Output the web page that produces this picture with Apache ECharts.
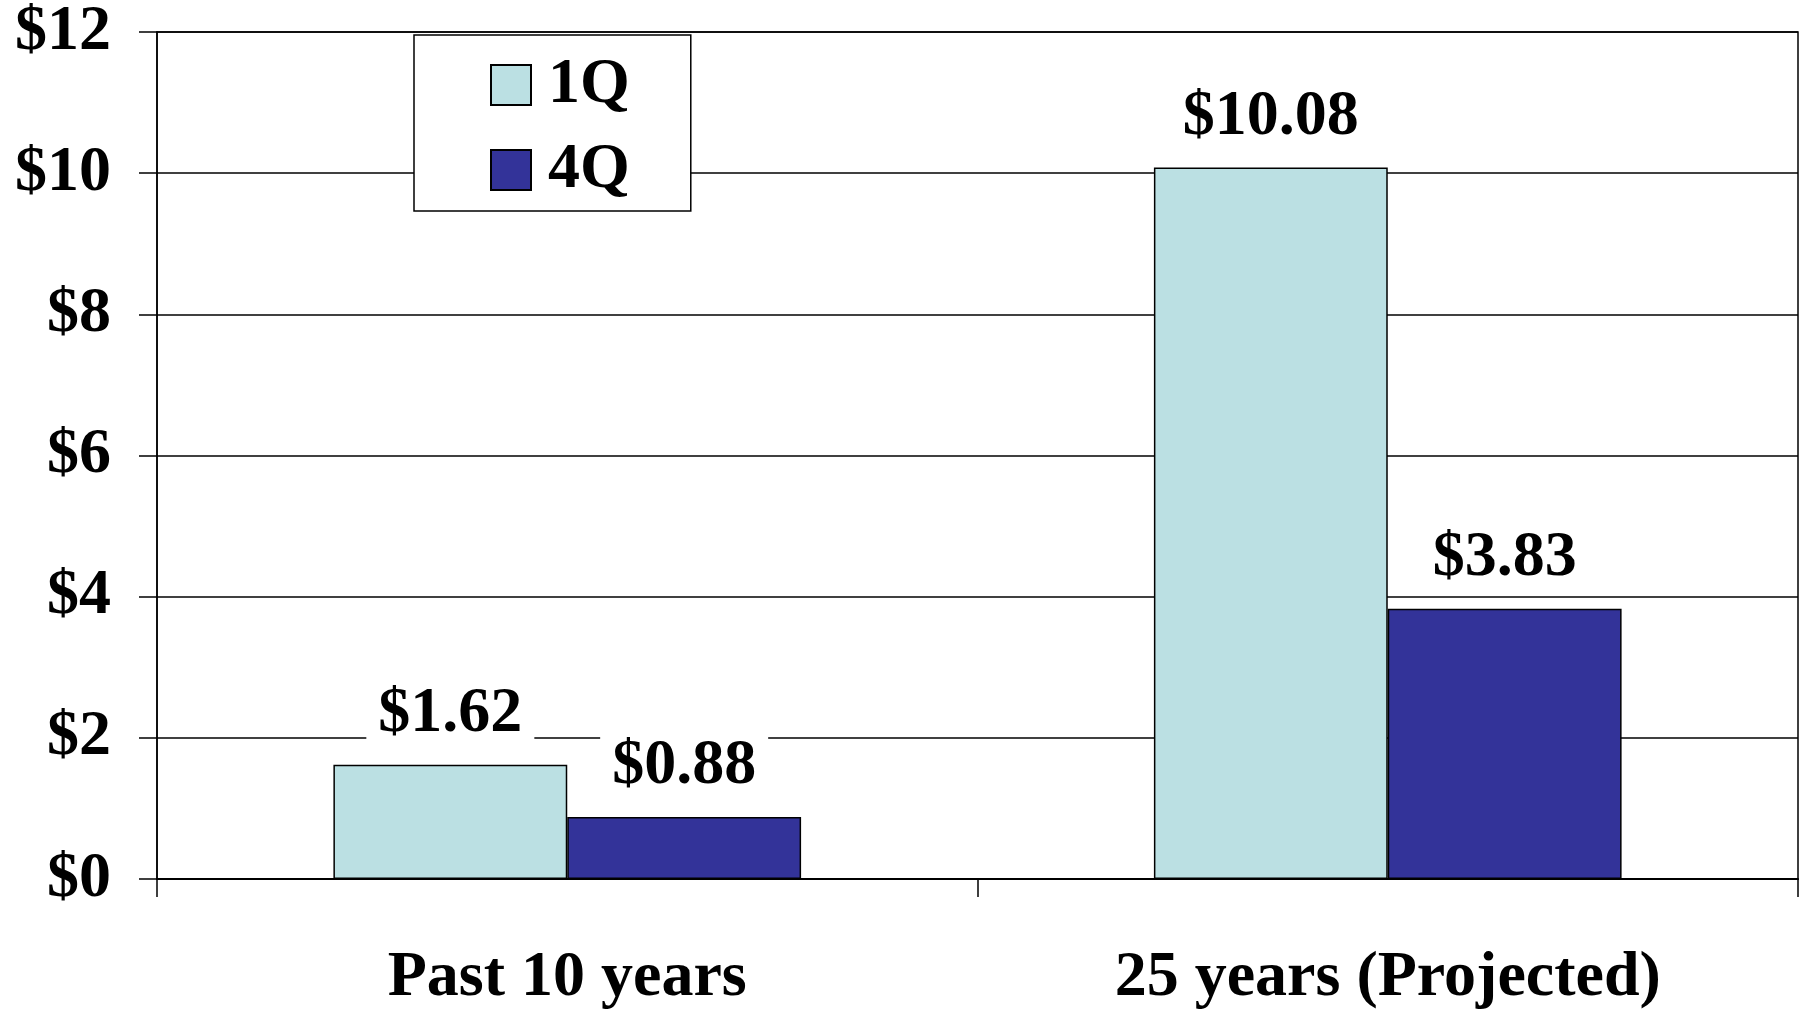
<!DOCTYPE html>
<html>
<head>
<meta charset="utf-8">
<style>html,body{margin:0;padding:0;background:#fff;}#chart{width:1808px;height:1021px;}</style>
<script src="https://cdn.jsdelivr.net/npm/echarts@6/dist/echarts.min.js"></script>
</head>
<body>
<div id="chart"></div>
<script>
const categories = ['Past 10 years', '25 years (Projected)'];
const series1Q = [1.62, 10.08];
const series4Q = [0.88, 3.83];
const seriesNames = ['1Q', '4Q'];
const yTicks = { min: 0, max: 12, interval: 2 };

const FONT = '"Liberation Serif", "Times New Roman", serif';
const chart = echarts.init(document.getElementById('chart'));
const labelCfg = {
  show: true,
  position: 'top',
  distance: 18,
  formatter: p => '$' + p.value.toFixed(2),
  fontFamily: FONT,
  fontWeight: 'bold',
  fontSize: 64,
  lineHeight: 64,
  color: '#000',
  backgroundColor: '#fff',
  padding: [0, 12, 0, 12]
};
chart.setOption({
  animation: false,
  backgroundColor: '#fff',
  grid: { left: 157, right: 10, top: 25, bottom: 142, show: true, borderColor: '#000', borderWidth: 1.5, z: 1 },
  legend: {
    data: seriesNames,
    orient: 'vertical',
    left: 414,
    top: 35,
    backgroundColor: '#fff',
    borderColor: '#000',
    borderWidth: 1.5,
    padding: [18, 61, 9, 76],
    itemWidth: 40,
    itemHeight: 40,
    itemGap: 21,
    icon: 'rect',
    textStyle: { fontFamily: FONT, fontWeight: 'bold', fontSize: 64, lineHeight: 40, color: '#000', padding: [0, 0, 0, 12] },
    z: 10
  },
  xAxis: {
    type: 'category',
    data: categories,
    axisLine: { show: true, lineStyle: { color: '#000', width: 2 } },
    axisTick: { show: true, length: 18, lineStyle: { color: '#000', width: 1.5 } },
    axisLabel: { margin: 67, fontFamily: FONT, fontWeight: 'bold', fontSize: 64, color: '#000' },
    splitLine: { show: false }
  },
  yAxis: {
    type: 'value',
    min: yTicks.min,
    max: yTicks.max,
    interval: yTicks.interval,
    axisLine: { show: true, lineStyle: { color: '#000', width: 1.5 } },
    axisTick: { show: true, length: 18, lineStyle: { color: '#000', width: 1.5 } },
    axisLabel: { margin: 46, formatter: v => '$' + v, fontFamily: FONT, fontWeight: 'bold', fontSize: 64, color: '#000' },
    splitLine: { show: true, lineStyle: { color: '#000', width: 1.5 } }
  },
  series: [
    {
      name: seriesNames[0], type: 'bar', data: series1Q,
      barGap: '0%', barCategoryGap: '43%',
      itemStyle: { color: '#BBE0E3', borderColor: '#000', borderWidth: 1.5 },
      label: labelCfg
    },
    {
      name: seriesNames[1], type: 'bar', data: series4Q,
      barGap: '0%', barCategoryGap: '43%',
      itemStyle: { color: '#333399', borderColor: '#000', borderWidth: 1.5 },
      label: labelCfg
    }
  ]
});
</script>
</body>
</html>
